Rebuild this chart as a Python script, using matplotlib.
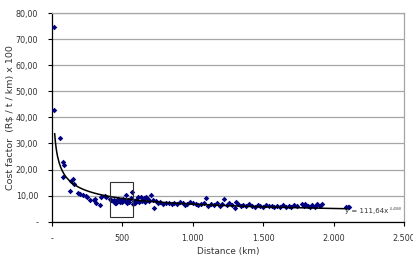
import numpy as np
import matplotlib
matplotlib.use('Agg')
import matplotlib.pyplot as plt
from matplotlib.patches import Rectangle

plt.rcParams['font.family'] = ['DejaVu Sans']

# distance (km) and cost factor (R$ / t / km) x 100
distance = [
    16, 16, 57, 80, 86, 76, 132, 146, 127, 155, 186, 200, 221, 240, 250,
    269, 300, 304, 316, 339, 351, 375, 387,
    410, 420, 430, 440, 450, 457, 465, 470, 480, 490, 500, 505, 515, 523,
    530, 540, 550, 560, 571, 575, 585, 590, 600, 610, 620, 630, 640, 650,
    660, 670, 680, 690, 705, 715, 728, 740, 755, 770, 790, 810, 830, 850,
    870, 890, 910, 930, 945, 960, 980, 1000, 1020, 1040, 1060, 1080, 1094,
    1110, 1130, 1150, 1170, 1190, 1210, 1223, 1240, 1260, 1280, 1299, 1306,
    1320, 1340, 1360, 1380, 1400, 1420, 1440, 1460, 1480, 1500, 1520, 1540,
    1560, 1580, 1600, 1620, 1640, 1660, 1680, 1700, 1720, 1740, 1775, 1790,
    1800, 1815, 1830, 1850, 1870, 1885, 1900, 1917, 2085, 2100, 2110,
]
cost = [
    74.7, 42.8, 32.0, 23.0, 21.7, 17.2, 15.7, 16.2, 11.9, 14.3, 10.9, 10.6,
    10.2, 9.8, 9.6, 8.3, 8.3, 8.6, 7.3, 6.4, 9.3, 9.8, 9.6,
    8.8, 8.2, 7.9, 8.5, 7.3, 7.0, 8.0, 8.6, 7.6, 8.1, 7.4, 8.8, 7.8, 10.2,
    7.2, 8.3, 7.6, 8.9, 11.5, 6.8, 8.0, 7.2, 8.4, 9.3, 7.7, 9.5, 8.1, 9.0,
    7.4, 9.6, 8.6, 7.9, 10.2, 8.4, 5.1, 7.8, 7.2, 7.6, 6.9, 7.3, 7.0, 6.8,
    7.1, 6.6, 7.4, 7.2, 6.5, 6.9, 7.5, 7.0, 6.7, 6.4, 6.9, 7.3, 9.0,
    6.2, 6.8, 6.5, 7.0, 6.1, 6.7, 8.6, 6.4, 7.1, 6.3, 5.1, 7.7,
    6.6, 6.0, 6.5, 5.9, 6.8, 6.1, 5.8, 6.4, 6.0, 5.7, 6.3, 5.9,
    6.2, 5.6, 6.1, 5.8, 6.4, 5.5, 6.0, 5.7, 6.3, 5.9, 6.6, 5.9,
    6.8, 6.1, 5.7, 6.4, 5.6, 6.9, 6.0, 6.9, 5.8, 5.6, 5.5,
]

# power trend line shown on the chart: y = 111,64 x^-0,4068
trend_a = 111.64
trend_b = -0.4068
trend_range = (19, 2093)

x_ticks = [0, 500, 1000, 1500, 2000, 2500]
x_labels = ['-', '500', '1.000', '1.500', '2.000', '2.500']
y_ticks = [0, 10, 20, 30, 40, 50, 60, 70, 80]
y_labels = ['-', '10,00', '20,00', '30,00', '40,00', '50,00', '60,00', '70,00', '80,00']

# highlighted box around the 400-570 km cluster
box_x = (410, 573)
box_y = (1.8, 15.1)

fig = plt.figure(figsize=(4.14, 2.6), dpi=100)
ax = fig.add_axes([0.1256, 0.1473, 0.8502, 0.8027])

ax.set_xlim(0, 2500)
ax.set_ylim(0, 80)

ax.yaxis.grid(True, color='#a6a6a6', linewidth=0.9)
ax.set_axisbelow(True)

ax.scatter(distance, cost, marker='D', s=8, color='#000080', linewidths=0, zorder=3)

xt = np.linspace(trend_range[0], trend_range[1], 400)
ax.plot(xt, trend_a * xt ** trend_b, color='black', linewidth=1.1, zorder=4)

ax.add_patch(Rectangle((box_x[0], box_y[0]), box_x[1] - box_x[0], box_y[1] - box_y[0],
                       fill=False, edgecolor='#303030', linewidth=0.8, zorder=5))

ax.set_xticks(x_ticks)
ax.set_xticklabels(x_labels)
ax.set_yticks(y_ticks)
ax.set_yticklabels(y_labels)
ax.tick_params(axis='both', direction='out', length=3, width=0.8, labelsize=5.8,
               labelcolor='#333333')
ax.tick_params(axis='y', pad=7)
ax.tick_params(axis='x', pad=6)

for side in ['top', 'right']:
    ax.spines[side].set_color('#a6a6a6')
    ax.spines[side].set_linewidth(0.9)
ax.spines['left'].set_linewidth(0.9)
ax.spines['bottom'].set_linewidth(0.9)

ax.set_xlabel('Distance (km)', fontsize=6.4, labelpad=3, color='#333333')
ax.set_ylabel('Cost factor  (R$ / t / km) x 100', fontsize=6.8, labelpad=1,
              color='#333333')

ax.text(2083, 3.2, 'y = 111,64x', fontsize=5.0, ha='left', va='baseline',
        color='#333333', zorder=6)
ax.text(2398, 4.4, '-0,4068', fontsize=2.2, ha='left', va='baseline',
        color='#333333', zorder=6)

fig.savefig('out.png', dpi=100)
